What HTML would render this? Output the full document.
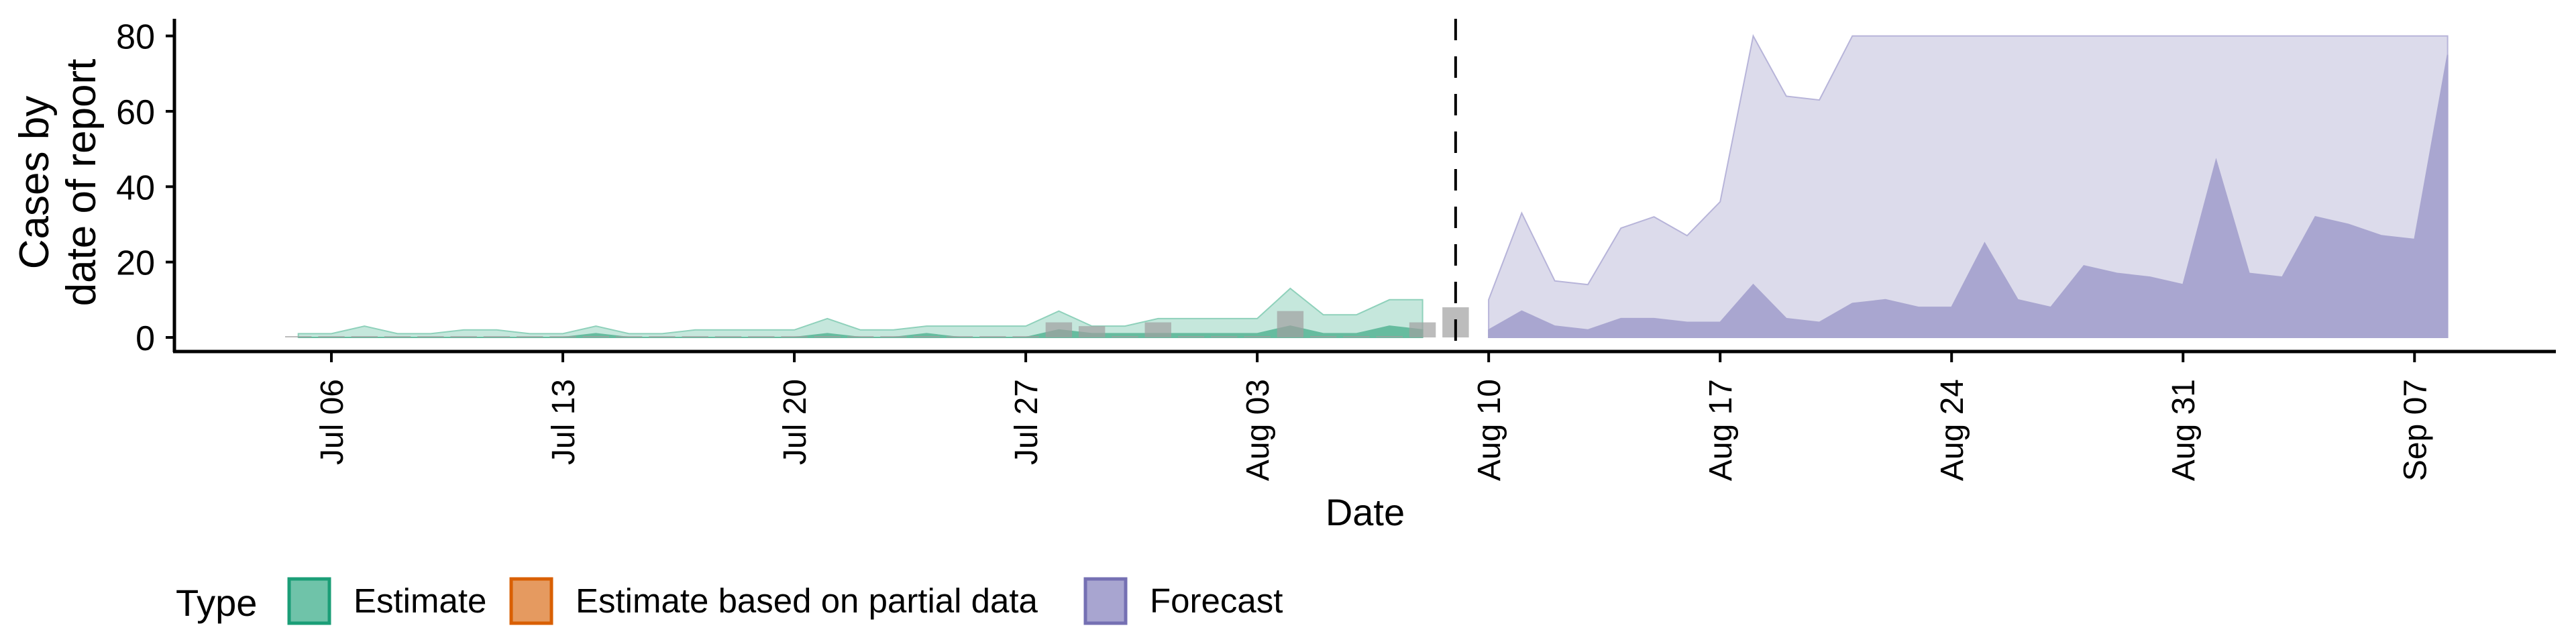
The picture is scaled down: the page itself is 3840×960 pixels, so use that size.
<!DOCTYPE html>
<html><head><meta charset="utf-8"><style>
html,body{margin:0;padding:0;background:#fff;}
svg{display:block;font-family:"Liberation Sans",Arial,sans-serif;}
</style></head><body>
<svg id="chart" width="3840" height="960" viewBox="0 0 3840 960">
<g id="plot"></g>
<g id="axes"></g>
<text x="0" y="0" transform="translate(72,272) rotate(-90)" text-anchor="middle" font-size="62">Cases by</text>
<text x="0" y="0" transform="translate(142,272) rotate(-90)" text-anchor="middle" font-size="62">date of report</text>
<text x="2035" y="783" text-anchor="middle" font-size="56">Date</text>
<g>
<text x="262" y="918" font-size="56">Type</text>
<g><rect x="431" y="863" width="60" height="66" fill="#6fc3a9" stroke="#1b9e77" stroke-width="5"/><text x="527" y="913" font-size="51">Estimate</text></g>
<g><rect x="762" y="863" width="60" height="66" fill="#e59a60" stroke="#d95f02" stroke-width="5"/><text x="858" y="913" font-size="51">Estimate based on partial data</text></g>
<g><rect x="1618" y="863" width="60" height="66" fill="#a8a5d0" stroke="#7570b3" stroke-width="5"/><text x="1714" y="913" font-size="51">Forecast</text></g>
</g>
</svg>
<script>
// Estimate: Jul 05 .. Aug 08 (35 days)
const estUpper90 = [1,1,3,1,1,2,2,1,1,3,1,1,2,2,2,2,5,2,2,3,3,3,3,7,3,3,5,5,5,5,13,6,6,10,10];
const estUpper50 = [0,0,0,0,0,0,0,0,0,1,0,0,0,0,0,0,1,0,0,1,0,0,0,2,1,1,1,1,1,1,3,1,1,3,2];
// Forecast: Aug 10 .. Sep 08 (30 days)
const fcUpper90 = [10,33,15,14,29,32,27,36,80,64,63,80,80,80,80,80,80,80,80,80,80,80,80,80,80,80,80,80,80,80];
const fcUpper50 = [2,7,3,2,5,5,4,4,14,5,4,9,10,8,8,25,10,8,19,17,16,14,47,17,16,32,30,27,26,75];
// Reported cases: Jul 05 .. Aug 09 (36 days)
const reported = [0,0,0,0,0,0,0,0,0,0,0,0,0,0,0,0,0,0,0,0,0,0,0,4,3,0,4,0,0,0,7,0,0,0,4,8];
const yTicks = [0,20,40,60,80];
const xTickLabels = ["Jul 06","Jul 13","Jul 20","Jul 27","Aug 03","Aug 10","Aug 17","Aug 24","Aug 31","Sep 07"];
const xTickDays = [0,7,14,21,28,35,42,49,56,63]; // days since Jul 06
const estStartDay = -1, fcStartDay = 35, repStartDay = -1, forecastDateDay = 34;

const NS="http://www.w3.org/2000/svg";
const X0=494, PXD=49.29, Y0=503, PXU=5.618;
const xs=d=>X0+d*PXD, ys=v=>Y0-v*PXU;
const plot=document.getElementById('plot'), axes=document.getElementById('axes');
function mk(tag,attrs,parent){const e=document.createElementNS(NS,tag);for(const k in attrs)e.setAttribute(k,attrs[k]);parent.appendChild(e);return e;}
function area(vals,start,fill,stroke,name){
  let d="M"+xs(start)+","+ys(0);
  vals.forEach((v,i)=>{d+=" L"+xs(start+i).toFixed(1)+","+ys(v).toFixed(1);});
  d+=" L"+xs(start+vals.length-1)+","+ys(0)+"Z";
  const p=mk('path',{d:d,fill:fill,stroke:stroke,'stroke-width':2},plot);
  
  
}
area(estUpper90,estStartDay,"#c5e7dc","#8fd1bb","estimate-90-ribbon");
area(estUpper50,estStartDay,"#66bc9f","#66bc9f","estimate-50-ribbon");
area(fcUpper90,fcStartDay,"#dcdbeb","#b7b4d9","forecast-90-ribbon");
area(fcUpper50,fcStartDay,"#a9a6d0","#a9a6d0","forecast-50-ribbon");
reported.forEach((v,i)=>{
  const d=repStartDay+i, bw=PXD*0.8;
  const h=Math.max(v*PXU,2);
  const r=mk('rect',{x:xs(d)-bw/2,y:ys(0)-h,width:bw,height:h,fill:"#a0a0a0","fill-opacity":0.7},plot);
  
  
});
const dl=mk('line',{x1:xs(forecastDateDay),x2:xs(forecastDateDay),y1:28,y2:522,stroke:"#000","stroke-width":4,"stroke-dasharray":"32 24"},plot);


// axes
const ya=mk('line',{x1:260,x2:260,y1:28,y2:525,stroke:"#000","stroke-width":5},axes);


const xa=mk('line',{x1:258,x2:3810,y1:524,y2:524,stroke:"#000","stroke-width":5},axes);


yTicks.forEach(v=>{
  mk('line',{x1:247,x2:260,y1:ys(v),y2:ys(v),stroke:"#000","stroke-width":4},axes);
  const t=mk('text',{x:231,y:ys(v)+19,"text-anchor":"end","font-size":52},axes);
  t.textContent=v;
  
  
});
xTickDays.forEach((d,i)=>{
  const x=xs(d);
  mk('line',{x1:x,x2:x,y1:524,y2:540,stroke:"#000","stroke-width":4},axes);
  const t=mk('text',{transform:"translate("+(x+17)+",565) rotate(-90)","text-anchor":"end","font-size":48},axes);
  t.textContent=xTickLabels[i];
  
  
});
</script>
</body></html>
